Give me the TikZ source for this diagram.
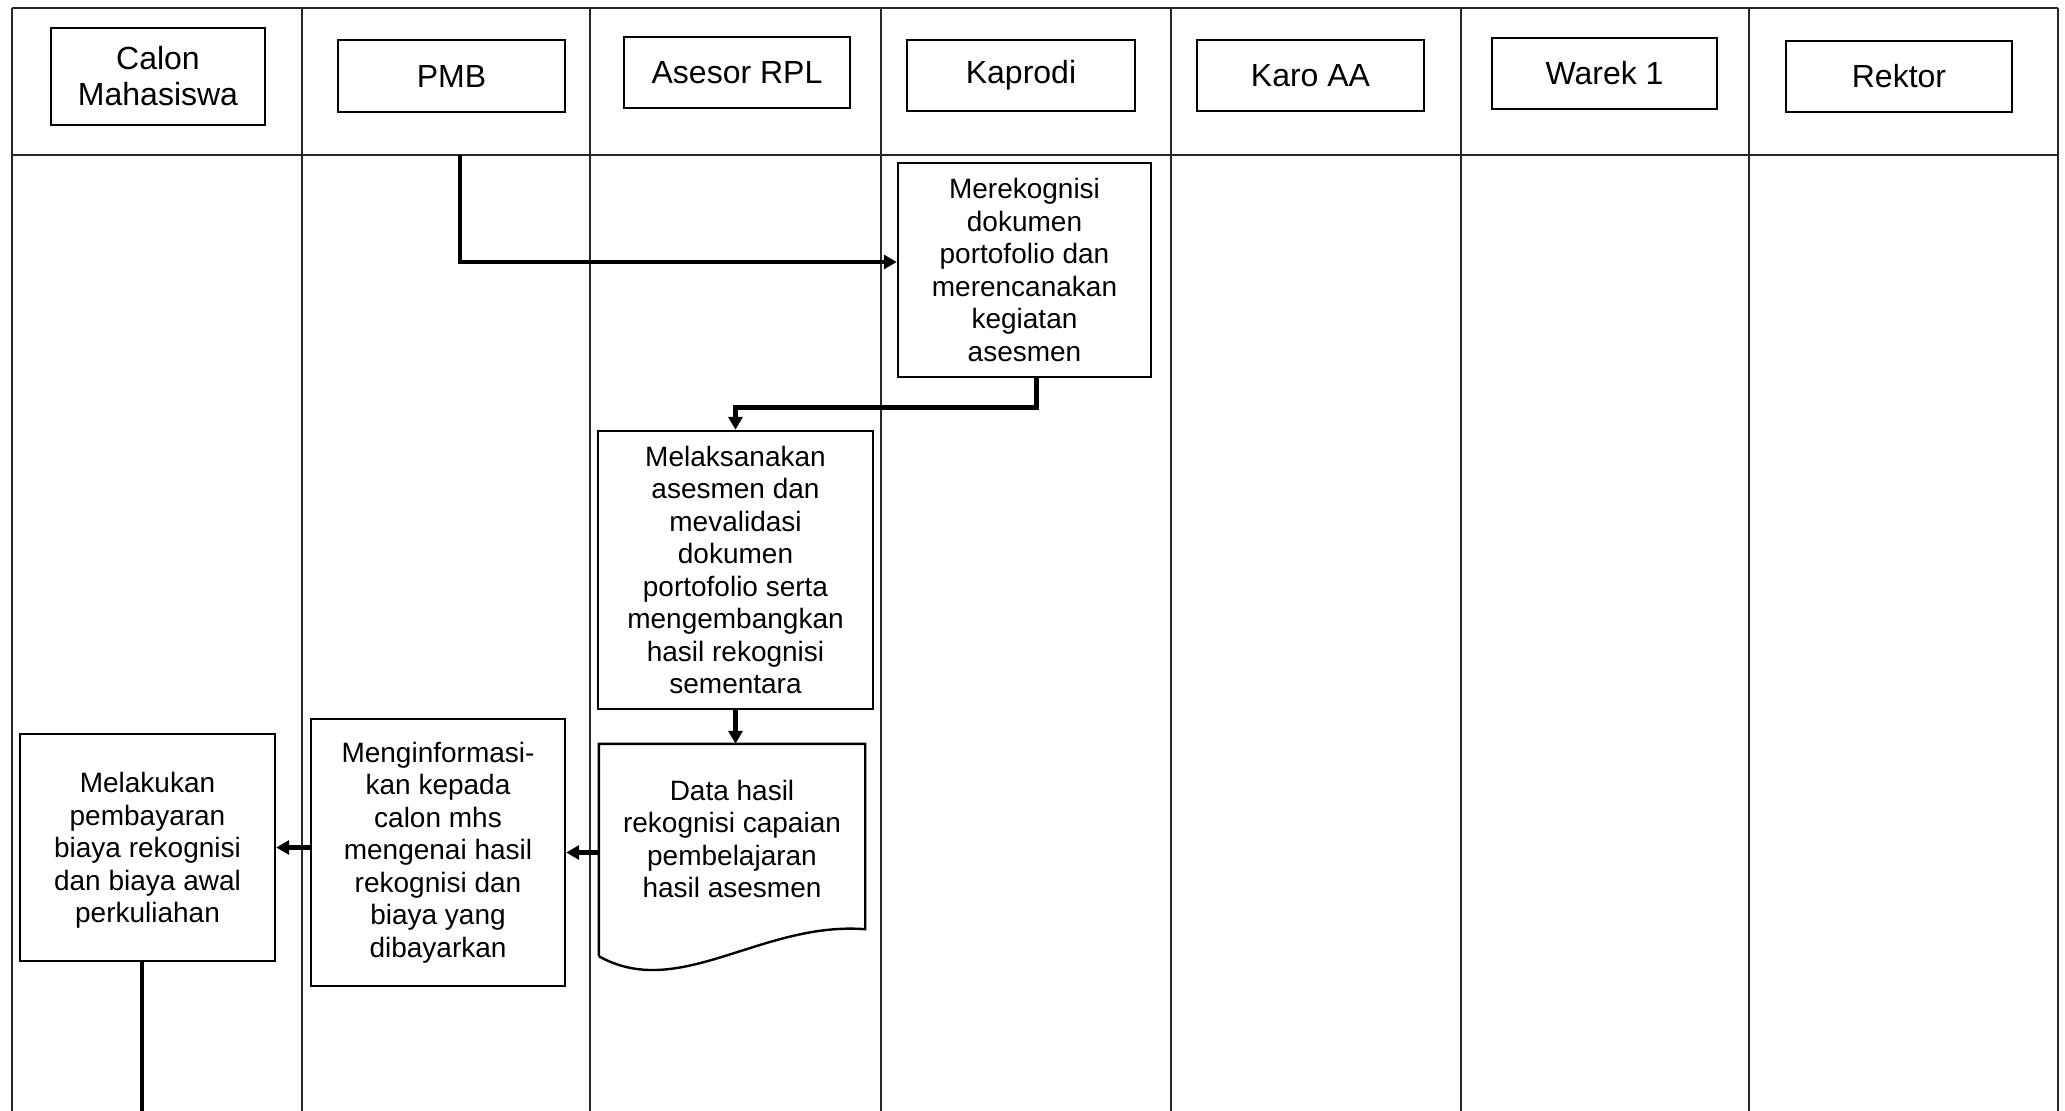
\documentclass[tikz,border=0pt]{standalone}
\usepackage{fontspec}
\setmainfont{Liberation Sans}
\usetikzlibrary{arrows.meta}
\begin{document}
\begin{tikzpicture}[x=1pt,y=-1pt,
  grid/.style={draw=black!85,line width=1.3pt},
  hdr/.style={draw,line width=2.4pt,align=center,font=\fontsize{32}{36}\selectfont,inner sep=0pt},
  proc/.style={draw,line width=2.4pt,align=center,font=\fontsize{28}{32.5}\selectfont,inner sep=0pt},
  flow/.style={line width=4.8pt,-{Triangle[length=13pt,width=14pt]}},
  plain/.style={line width=4.8pt}]
\useasboundingbox (0,0) rectangle (2065,1111);
\fill[white] (0,0) rectangle (2065,1111);
% grid
\draw[grid] (12,8) -- (2058,8);
\draw[grid] (12,155) -- (2058,155);
\foreach \x in {12,302,590,881,1171,1461,1749,2058}
  \draw[grid] (\x,8) -- (\x,1111);
% headers
\node[hdr,minimum width=214pt,minimum height=97pt] (calon) at (158,76.5) {Calon\\Mahasiswa};
\node[hdr,minimum width=227pt,minimum height=72pt] (pmb) at (451.5,76) {PMB};
\node[hdr,minimum width=226pt,minimum height=71pt] (asesor) at (737,72.5) {Asesor RPL};
\node[hdr,minimum width=228pt,minimum height=71pt] (kaprodi) at (1021,75.5) {Kaprodi};
\node[hdr,minimum width=227pt,minimum height=71pt] (karo) at (1310.5,75.5) {Karo AA};
\node[hdr,minimum width=225pt,minimum height=71pt] (warek) at (1604.5,73.5) {Warek 1};
\node[hdr,minimum width=226pt,minimum height=71pt] (rektor) at (1899,76.5) {Rektor};
% process boxes
\node[proc,minimum width=253pt,minimum height=214pt] (merek) at (1024.5,270)
  {Merekognisi\\dokumen\\portofolio dan\\merencanakan\\kegiatan\\asesmen};
\node[proc,minimum width=275pt,minimum height=278pt] (melak) at (735.5,570)
  {Melaksanakan\\asesmen dan\\mevalidasi\\dokumen\\portofolio serta\\mengembangkan\\hasil rekognisi\\sementara};
\node[proc,draw=none,minimum width=264pt,minimum height=188pt] (data) at (732,839)
  {Data hasil\\rekognisi capaian\\pembelajaran\\hasil asesmen};
\draw[line width=2.4pt,line join=miter]
  ([shift={(0,22)}]data.south west) -- (data.north west) -- (data.north east)
  -- ([shift={(0,-5)}]data.south east)
  .. controls ([shift={(-104,-13)}]data.south east) and ([shift={(80,67)}]data.south west)
  .. ([shift={(0,22)}]data.south west);
\node[proc,minimum width=254pt,minimum height=267pt] (menginf) at (438,852.5)
  {Menginformasi-\\kan kepada\\calon mhs\\mengenai hasil\\rekognisi dan\\biaya yang\\dibayarkan};
\node[proc,minimum width=255pt,minimum height=227pt,text depth=-8pt] (melakukan) at (147.5,847.5)
  {Melakukan\\pembayaran\\biaya rekognisi\\dan biaya awal\\perkuliahan};
% connectors
\coordinate (s1) at (460,155);
\coordinate (e1) at (142,1111);
\draw[flow] (s1) |- ([shift={(0,-8)}]merek.west);
\draw[flow] ([xshift=12pt]merek.south) -- ++(0,29) -| (melak.north);
\draw[flow] (melak.south) -- (melak.south |- data.north);
\draw[flow] (data.west |- menginf.east) -- (menginf.east);
\draw[flow] (menginf.west |- melakukan.east) -- (melakukan.east);
\draw[plain] (melakukan.south -| e1) -- (e1);
\end{tikzpicture}
\end{document}
